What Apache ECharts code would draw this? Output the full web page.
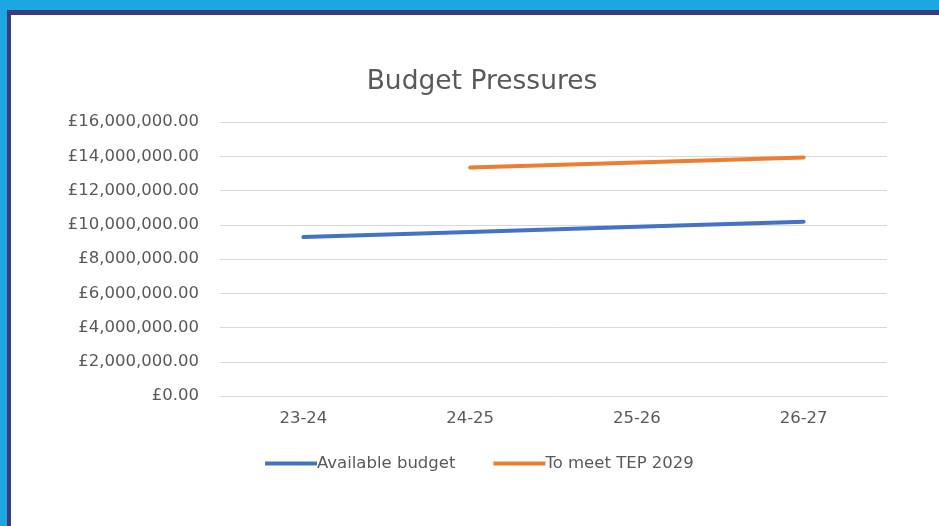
<!DOCTYPE html>
<html>
<head>
<meta charset="utf-8">
<script src="https://cdn.jsdelivr.net/npm/echarts@6/dist/echarts.min.js"></script>
<style>
  html, body { margin: 0; padding: 0; width: 939px; height: 526px; overflow: hidden; background: #1ba7df; }
  #frame { position: absolute; left: 7px; top: 10px; width: 932px; height: 516px; background: #3b3d7a; }
  #chart { position: absolute; left: 11px; top: 15px; width: 928px; height: 511px; background: #ffffff; }
</style>
</head>
<body>
<div id="frame"></div>
<div id="chart"></div>
<script>
const categories = ['23-24', '24-25', '25-26', '26-27'];
const availableBudget = [9280000, 9580000, 9880000, 10180000];
const toMeetTEP2029 = [null, 13340000, 13640000, 13930000];
const yTicks = { min: 0, max: 16000000, interval: 2000000 };

const chart = echarts.init(document.getElementById('chart'), null, { renderer: 'canvas' });
const fmt = v => '£' + v.toLocaleString('en-GB', { minimumFractionDigits: 2, maximumFractionDigits: 2 });
const font = 'DejaVu Sans, sans-serif';

chart.setOption({
  animation: false,
  backgroundColor: '#ffffff',
  title: {
    text: 'Budget Pressures',
    left: 466, top: 49,
    textAlign: 'center',
    textStyle: { fontFamily: font, fontSize: 26.5, fontWeight: 'normal', color: '#595959' }
  },
  legend: {
    top: 435,
    left: 249,
    itemWidth: 52,
    itemHeight: 4,
    itemGap: 38,
    icon: 'rect',
    textStyle: { fontFamily: font, fontSize: 16.5, color: '#595959', padding: [0, 0, 0, -5] },
    data: ['Available budget', 'To meet TEP 2029']
  },
  grid: { left: 209, right: 52, top: 107, bottom: 130, containLabel: false },
  xAxis: {
    type: 'category',
    data: categories,
    boundaryGap: true,
    axisLine: { lineStyle: { color: '#d9d9d9', width: 1 } },
    axisTick: { show: false },
    axisLabel: { fontFamily: font, fontSize: 16.5, color: '#595959', margin: 14 }
  },
  yAxis: {
    type: 'value',
    min: yTicks.min, max: yTicks.max, interval: yTicks.interval,
    axisLine: { show: false },
    axisTick: { show: false },
    axisLabel: { fontFamily: font, fontSize: 16.5, color: '#595959', margin: 21, formatter: fmt },
    splitLine: { lineStyle: { color: '#d9d9d9', width: 1 } }
  },
  series: [
    {
      name: 'Available budget', type: 'line', data: availableBudget,
      symbol: 'none', lineStyle: { color: '#4472c4', width: 4, cap: 'round' },
      itemStyle: { color: '#4472c4' }
    },
    {
      name: 'To meet TEP 2029', type: 'line', data: toMeetTEP2029,
      symbol: 'none', lineStyle: { color: '#ed7d31', width: 4, cap: 'round' },
      itemStyle: { color: '#ed7d31' }
    }
  ]
});
</script>
</body>
</html>
